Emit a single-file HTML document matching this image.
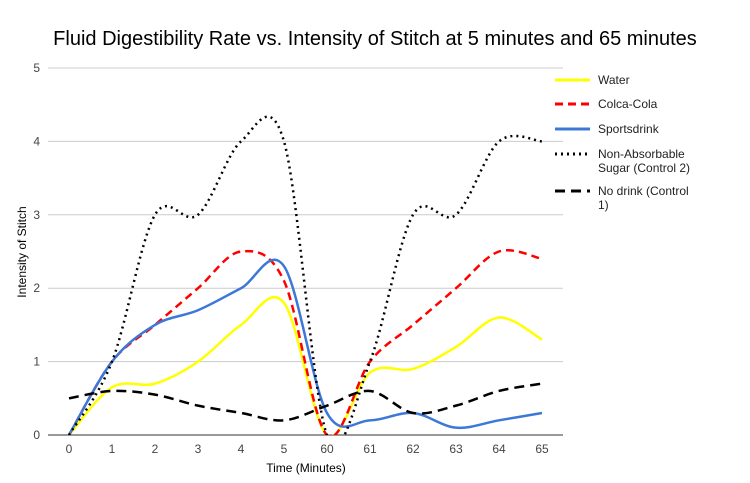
<!DOCTYPE html>
<html><head><meta charset="utf-8"><style>
body{margin:0;background:#fff;font-family:"Liberation Sans",Arial,sans-serif}
svg text{font-family:"Liberation Sans",Arial,sans-serif}
</style></head><body>
<svg id="chart" width="750" height="478">
<defs><clipPath id="plotclip"><rect x="40" y="40" width="540" height="395"/></clipPath></defs>
<text x="375" y="45" text-anchor="middle" font-size="20" fill="#000">Fluid Digestibility Rate vs. Intensity of Stitch at 5 minutes and 65 minutes</text>
<text transform="translate(26,252) rotate(-90)" text-anchor="middle" font-size="12">Intensity of Stitch</text>
<text x="306" y="472" text-anchor="middle" font-size="12">Time (Minutes)</text>
<g id="grid"></g><g id="xt"></g><g id="series" clip-path="url(#plotclip)"></g><g id="legend"></g>
</svg>
<script>
const categories=["0","1","2","3","4","5","60","61","62","63","64","65"];
const yTicks=[0,1,2,3,4,5];
const seriesNames=["Water","Colca-Cola","Sportsdrink","Non-Absorbable Sugar (Control 2)","No drink (Control 1)"];
const water=[0,0.65,0.7,1.0,1.5,1.8,0,0.85,0.9,1.2,1.6,1.3];
const cola=[0,1.0,1.5,2.0,2.5,2.1,0,1.0,1.5,2.0,2.5,2.4];
const sports=[0,1.0,1.5,1.7,2.0,2.3,0.3,0.2,0.3,0.1,0.2,0.3];
const sugar=[0,1.0,3.0,3.0,4.0,4.0,0,1.0,3.0,3.0,4.0,4.0];
const nodrink=[0.5,0.6,0.55,0.4,0.3,0.2,0.4,0.6,0.3,0.4,0.6,0.7];
const NS="http://www.w3.org/2000/svg";
const x=i=>69+i*43.0;
const y=v=>435-v*73.4;
function mk(t,a,p){const e=document.createElementNS(NS,t);for(const k in a)e.setAttribute(k,a[k]);p.appendChild(e);return e;}
const grid=document.getElementById('grid');
yTicks.forEach(t=>{
 const l=mk('line',{x1:48,x2:563,y1:y(t),y2:y(t),stroke:t===0?'#333':'#ccc','stroke-width':1},grid);
 
 
 const tx=mk('text',{x:40,y:y(t)+4,'text-anchor':'end','font-size':12,fill:'#444'},grid);tx.textContent=t;
 
 
});
const xt=document.getElementById('xt');
categories.forEach((c,i)=>{
 const tx=mk('text',{x:x(i),y:453,'text-anchor':'middle','font-size':12,fill:'#444'},xt);tx.textContent=c;
 
 
});
function path(vals){
 const p=vals.map((v,i)=>[x(i),y(v)]);let d='M'+p[0][0]+','+p[0][1];
 for(let i=0;i<p.length-1;i++){const p0=p[i-1]||p[i],p1=p[i],p2=p[i+1],p3=p[i+2]||p2;
  const c1=[p1[0]+(p2[0]-p0[0])/6,p1[1]+(p2[1]-p0[1])/6],c2=[p2[0]-(p3[0]-p1[0])/6,p2[1]-(p3[1]-p1[1])/6];
  d+=` C${c1[0]},${c1[1]} ${c2[0]},${c2[1]} ${p2[0]},${p2[1]}`;}
 return d;}
const styles=[{c:'#ffff00',d:''},{c:'#ff0000',d:'8,5'},{c:'#3c78d8',d:''},{c:'#000',d:'2,4'},{c:'#000',d:'10,6'}];
const data=[water,cola,sports,sugar,nodrink];
const sg=document.getElementById('series');
const ids=['water','cola','sportsdrink','sugar','no-drink'];
data.forEach((vals,k)=>{
 const p=mk('path',{d:path(vals),fill:'none',stroke:styles[k].c,'stroke-width':2.5,'stroke-dasharray':styles[k].d},sg);
 
 
});
const lg=document.getElementById('legend');
const ly=[80,104,129,154,191];
const lines=[["Water"],["Colca-Cola"],["Sportsdrink"],["Non-Absorbable","Sugar (Control 2)"],["No drink (Control","1)"]];
seriesNames.forEach((n,k)=>{
 const l=mk('line',{x1:555,x2:590,y1:ly[k],y2:ly[k],stroke:styles[k].c,'stroke-width':3,'stroke-dasharray':styles[k].d},lg);
 
 
 lines[k].forEach((s,j)=>{
  const t=mk('text',{x:598,y:ly[k]+4+j*14,'font-size':12,fill:'#222'},lg);t.textContent=s;
  
  
 });
});
</script>
</body></html>
